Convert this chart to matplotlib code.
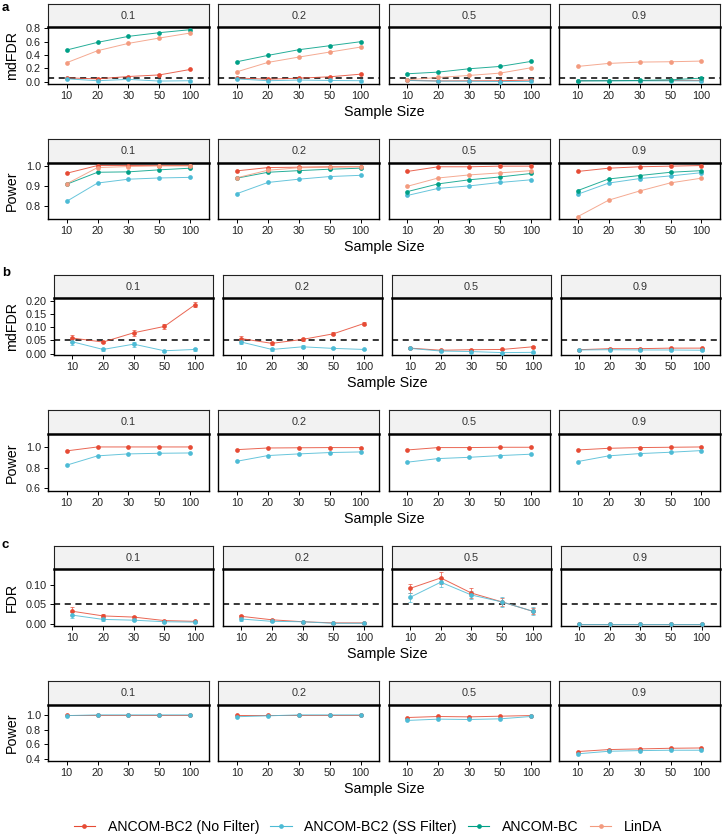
import matplotlib
matplotlib.use('Agg')
import matplotlib.pyplot as plt
from matplotlib.lines import Line2D
import numpy as np

plt.rcParams['font.family'] = ['Liberation Sans', 'DejaVu Sans']

sizes = ['10', '20', '30', '50', '100']
props = ['0.1', '0.2', '0.5', '0.9']
methods = ['ANCOM-BC2 (No Filter)', 'ANCOM-BC2 (SS Filter)', 'ANCOM-BC', 'LinDA']
colors = ['#E64B35', '#4DBBD5', '#00A087', '#F39B7F']

# panel a (ANCOM-BC2 curves are shared with panel b)
a_mdfdr_bc = [[0.475, 0.59, 0.68, 0.735, 0.78],
              [0.30, 0.395, 0.48, 0.54, 0.60],
              [0.12, 0.145, 0.195, 0.23, 0.305],
              [0.015, 0.015, 0.02, 0.03, 0.055]]
a_mdfdr_linda = [[0.285, 0.465, 0.575, 0.655, 0.73],
                 [0.15, 0.29, 0.37, 0.445, 0.52],
                 [0.03, 0.065, 0.095, 0.13, 0.21],
                 [0.23, 0.275, 0.295, 0.30, 0.31]]
a_power_bc = [[0.908, 0.967, 0.969, 0.979, 0.987],
              [0.938, 0.967, 0.975, 0.982, 0.987],
              [0.872, 0.910, 0.930, 0.944, 0.961],
              [0.877, 0.934, 0.951, 0.967, 0.975]]
a_power_linda = [[0.910, 0.990, 0.995, 0.998, 0.998],
                 [0.940, 0.977, 0.989, 0.992, 0.995],
                 [0.898, 0.939, 0.954, 0.964, 0.975],
                 [0.749, 0.830, 0.875, 0.915, 0.938]]

# panel b
b_mdfdr_nf = [[0.059, 0.044, 0.079, 0.103, 0.185],
              [0.057, 0.039, 0.054, 0.075, 0.114],
              [0.021, 0.013, 0.015, 0.016, 0.026],
              [0.015, 0.019, 0.019, 0.021, 0.021]]
b_mdfdr_nf_err = [[0.013, 0.005, 0.012, 0.009, 0.009],
                  [0.009, 0.005, 0.006, 0.006, 0.006],
                  [0.003, 0.002, 0.002, 0.002, 0.003],
                  [0.002, 0.002, 0.002, 0.002, 0.002]]
b_mdfdr_ss = [[0.045, 0.016, 0.036, 0.011, 0.016],
              [0.044, 0.016, 0.026, 0.020, 0.016],
              [0.020, 0.010, 0.008, 0.004, 0.005],
              [0.014, 0.015, 0.014, 0.014, 0.013]]
b_mdfdr_ss_err = [[0.013, 0.004, 0.009, 0.003, 0.004],
                  [0.009, 0.004, 0.005, 0.004, 0.003],
                  [0.003, 0.002, 0.002, 0.002, 0.002],
                  [0.002, 0.002, 0.002, 0.002, 0.002]]
b_power_nf = [[0.962, 1.0, 1.0, 1.0, 1.0],
              [0.974, 0.99, 0.992, 0.994, 0.994],
              [0.971, 0.994, 0.994, 0.997, 0.997],
              [0.971, 0.987, 0.994, 0.997, 1.0]]
b_power_ss = [[0.824, 0.914, 0.933, 0.939, 0.942],
              [0.862, 0.917, 0.933, 0.946, 0.952],
              [0.853, 0.888, 0.900, 0.917, 0.930],
              [0.859, 0.914, 0.936, 0.949, 0.965]]

# panel c
c_fdr_nf = [[0.032, 0.020, 0.017, 0.008, 0.006],
            [0.019, 0.010, 0.005, 0.002, 0.002],
            [0.091, 0.118, 0.079, 0.056, 0.032],
            [0.0, 0.0, 0.0, 0.0, 0.0]]
c_fdr_nf_err = [[0.010, 0.004, 0.004, 0.002, 0.002],
                [0.004, 0.003, 0.002, 0.001, 0.001],
                [0.012, 0.015, 0.012, 0.010, 0.008],
                [0.0, 0.0, 0.0, 0.0, 0.0]]
c_fdr_ss = [[0.022, 0.011, 0.009, 0.005, 0.004],
            [0.012, 0.006, 0.005, 0.001, 0.001],
            [0.068, 0.107, 0.074, 0.056, 0.032],
            [0.0, 0.0, 0.0, 0.0, 0.0]]
c_fdr_ss_err = [[0.008, 0.003, 0.003, 0.002, 0.002],
                [0.004, 0.002, 0.002, 0.001, 0.001],
                [0.012, 0.012, 0.010, 0.012, 0.010],
                [0.0, 0.0, 0.0, 0.0, 0.0]]
c_power_nf = [[1.0, 1.0, 1.0, 1.0, 1.0],
              [1.0, 1.0, 1.0, 1.0, 1.0],
              [0.964, 0.978, 0.973, 0.982, 0.991],
              [0.499, 0.526, 0.535, 0.544, 0.548]]
c_power_ss = [[0.99, 1.0, 1.0, 1.0, 1.0],
              [0.975, 0.987, 1.0, 1.0, 1.0],
              [0.924, 0.942, 0.937, 0.946, 0.978],
              [0.468, 0.503, 0.512, 0.517, 0.517]]

W, H = 722, 838
fig = plt.figure(figsize=(W / 100, H / 100), dpi=100)


def box(l, t, r, b):
    return [l / W, 1 - b / H, (r - l) / W, (b - t) / H]


# rows: ylabel, series, (strip top, strip bottom, panel bottom, left), ylim, yticks, fmt, dashed line
rows = [
    ('mdFDR', [(b_mdfdr_nf, None, 0), (b_mdfdr_ss, None, 1), (a_mdfdr_bc, None, 2), (a_mdfdr_linda, None, 3)],
     (4, 27, 84, 48), (-0.033, 0.82), [0, 0.2, 0.4, 0.6, 0.8], '%.1f', True),
    ('Power', [(b_power_nf, None, 0), (b_power_ss, None, 1), (a_power_bc, None, 2), (a_power_linda, None, 3)],
     (139, 163, 219, 48), (0.7375, 1.0125), [0.8, 0.9, 1.0], '%.1f', False),
    ('mdFDR', [(b_mdfdr_nf, b_mdfdr_nf_err, 0), (b_mdfdr_ss, b_mdfdr_ss_err, 1)],
     (275, 298, 355, 54), (-0.005, 0.2105), [0, 0.05, 0.10, 0.15, 0.20], '%.2f', True),
    ('Power', [(b_power_nf, None, 0), (b_power_ss, None, 1)],
     (410, 434, 491, 48), (0.575, 1.125), [0.6, 0.8, 1.0], '%.1f', False),
    ('FDR', [(c_fdr_nf, c_fdr_nf_err, 0), (c_fdr_ss, c_fdr_ss_err, 1)],
     (546, 569, 626, 54), (-0.006, 0.141), [0, 0.05, 0.10], '%.2f', True),
    ('Power', [(c_power_nf, None, 0), (c_power_ss, None, 1)],
     (681, 705, 761, 48), (0.37, 1.135), [0.4, 0.6, 0.8, 1.0], '%.1f', False),
]

x = np.arange(len(sizes))
gap = 9.5
for ylab, series, (st, sb, pb, left), ylim, yticks, fmt, dashed in rows:
    pw = (720 - left - 3 * gap) / 4
    for j, p in enumerate(props):
        l = left + j * (pw + gap)
        r = l + pw
        sax = fig.add_axes(box(l, st, r, sb))
        sax.set_facecolor('#F2F2F2')
        sax.set_xticks([])
        sax.set_yticks([])
        for s in sax.spines.values():
            s.set_linewidth(0.8)
            s.set_color('#222222')
        sax.text(0.5, 0.5, p, ha='center', va='center', fontsize=7.8, color='#333333', transform=sax.transAxes)

        ax = fig.add_axes(box(l, sb, r, pb))
        if dashed:
            ax.axhline(0.05, color='black', lw=1.1, ls=(0, (4, 3)), zorder=1)
        for vals, errs, k in series:
            if errs is not None:
                ax.errorbar(x, vals[j], yerr=errs[j], fmt='none', ecolor=colors[k], elinewidth=0.6,
                            capsize=1.5, capthick=0.6, alpha=0.8, zorder=2)
            ax.plot(x, vals[j], color=colors[k], lw=0.7, alpha=0.85, zorder=3)
            ax.plot(x, vals[j], 'o', color=colors[k], ms=3.4, mew=0, zorder=4)
        ax.set_xlim(-0.6, len(sizes) - 0.4)
        ax.set_ylim(*ylim)
        ax.set_xticks(x)
        ax.set_xticklabels(sizes)
        ax.tick_params(axis='both', length=3, width=0.7, pad=2, labelsize=7.8, labelcolor='#222222')
        for s in ax.spines.values():
            s.set_linewidth(1.0)
        ax.spines['top'].set_linewidth(1.8)
        if j == 0:
            ax.set_yticks(yticks)
            ax.set_yticklabels([fmt % v for v in yticks])
        else:
            ax.set_yticks([])
    fig.text(12 / W, 1 - (sb + pb) / 2 / H, ylab, rotation=90, ha='center', va='center', fontsize=10.3)
    fig.text((left + 720) / 2 / W, 1 - (pb + 28) / H, 'Sample Size', ha='center', va='center', fontsize=10.3)

fig.text(2 / W, 1 - 8 / H, 'a', fontsize=9.5, fontweight='bold', va='center')
fig.text(2 / W, 1 - 273 / H, 'b', fontsize=9.5, fontweight='bold', va='center')
fig.text(2 / W, 1 - 545 / H, 'c', fontsize=9.5, fontweight='bold', va='center')

handles = [Line2D([0], [0], color=c, lw=0.8, marker='o', ms=3.4, mew=0) for c in colors]
fig.legend(handles, methods, loc='center', bbox_to_anchor=(368 / W, 1 - 827 / H), ncol=4, frameon=False,
           fontsize=10.2, handlelength=1.5, handletextpad=0.9, columnspacing=0.8)

fig.savefig('out.png', dpi=100)
